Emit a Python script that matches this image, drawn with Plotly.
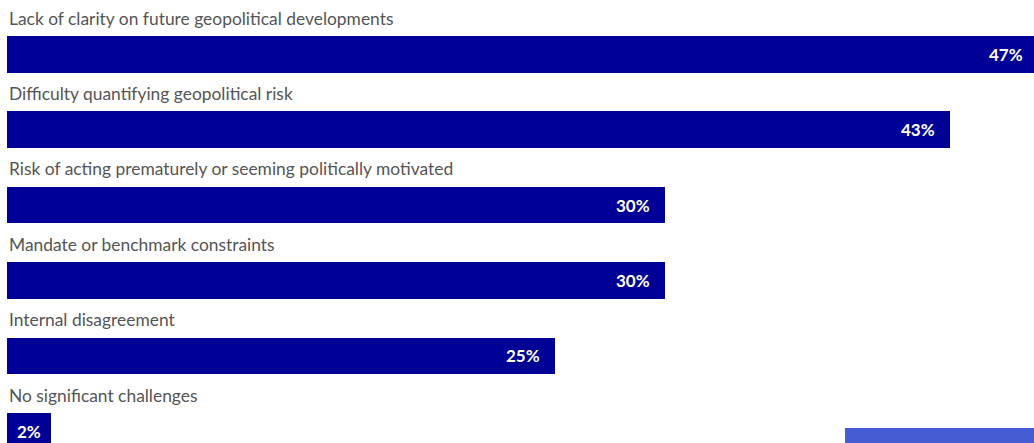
import plotly.graph_objects as go

# Survey responses: main challenges in handling geopolitical risk
challenges = [
    "Lack of clarity on future geopolitical developments",
    "Difficulty quantifying geopolitical risk",
    "Risk of acting prematurely or seeming politically motivated",
    "Mandate or benchmark constraints",
    "Internal disagreement",
    "No significant challenges",
]
shares = [47, 43, 30, 30, 25, 2]
share_labels = ["47%", "43%", "30%", "30%", "25%", "2%"]

BAR_COLOR = "#000096"
LABEL_COLOR = "#555555"
X_MAX = 46.83  # visible extent of the value axis; the longest bar runs off the edge

positions = list(range(len(challenges)))

fig = go.Figure(
    go.Bar(
        x=shares,
        y=positions,
        orientation="h",
        width=0.487,
        marker=dict(color=BAR_COLOR, line=dict(width=0)),
        hoverinfo="skip",
    )
)

annotations = []
for pos, name, val, lab in zip(positions, challenges, shares, share_labels):
    # category label above each bar
    annotations.append(dict(
        x=0, y=pos - 0.48, xref="x", yref="y",
        text=name, showarrow=False, xanchor="left", yanchor="middle",
        font=dict(family="Lato", size=17.4, color=LABEL_COLOR, weight=400),
    ))
    # value label inside the end of the bar (centred when the bar is short);
    # placed in paper units so a bar end beyond the axis range still shows it
    if val < 5:
        annotations.append(dict(
            x=val / 2 / X_MAX, y=pos, xref="paper", yref="y", text=lab,
            showarrow=False, xanchor="center", yanchor="middle",
            font=dict(family="Lato", size=17, color="white", weight=700),
        ))
    else:
        annotations.append(dict(
            x=val / X_MAX, y=pos, xref="paper", yref="y", text=lab,
            showarrow=False, xanchor="right", yanchor="middle", xshift=-13,
            font=dict(family="Lato", size=17, color="white", weight=700),
        ))

fig.update_layout(
    width=1034,
    height=443,
    margin=dict(l=7, r=0, t=0, b=0),
    paper_bgcolor="white",
    plot_bgcolor="white",
    showlegend=False,
    bargap=0,
    xaxis=dict(range=[0, X_MAX], visible=False, fixedrange=True),
    yaxis=dict(range=[5.155, -0.72], visible=False, fixedrange=True),
    annotations=annotations,
    shapes=[dict(
        type="rect", xref="paper", yref="paper",
        x0=0.816, x1=1.0, y0=0, y1=0.034,
        fillcolor="#465cd2", line=dict(width=0), layer="above",
    )],
)

fig.write_html("out.html")
